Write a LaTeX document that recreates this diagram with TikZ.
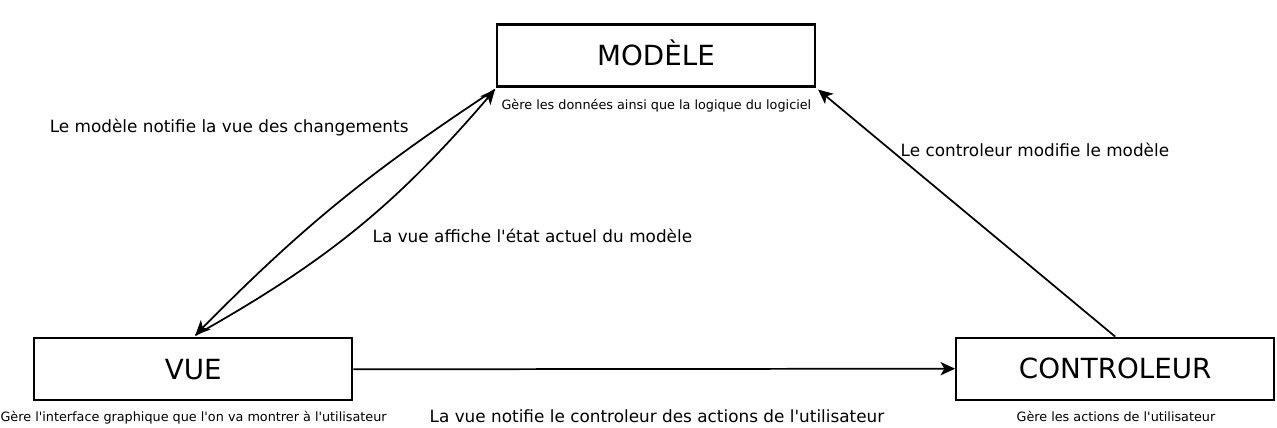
\documentclass[tikz,border=0pt]{standalone}
\usepackage{fontspec}
\newfontfamily\dv{DejaVu Sans}
\usetikzlibrary{arrows.meta}
\begin{document}
\begin{tikzpicture}[x=0.75pt,y=0.75pt,
  box/.style={draw, line width=1.6pt, minimum width=238.5pt, minimum height=46.5pt,
    inner sep=0pt, font=\dv\fontsize{20.8pt}{24pt}\selectfont, text height=15.2pt, text depth=0pt},
  lab/.style={inner sep=0pt, anchor=base west, font=\dv\fontsize{12.65pt}{15pt}\selectfont},
  small/.style={inner sep=0pt, anchor=base west, font=\dv\fontsize{9.6pt}{11pt}\selectfont},
  arr/.style={line width=1.3pt, -{Stealth[length=11pt,width=10pt,inset=3pt]}}]
\useasboundingbox (0,0) rectangle (1277,428);
\node[box] (mod) at (656,372.5) {MODÈLE};
\node[box] (vue) at (193.3,58.7) {VUE};
\node[box] (ctrl) at (1115.2,59.3) {CONTROLEUR};

\node[small] (dmod) at (501.3,318.7) {Gère les données ainsi que la logique du logiciel};
\node[small] (dvue) at (0.3,6.3) {Gère l'interface graphique que l'on va montrer à l'utilisateur};
\node[small] (dctrl) at (1016.3,7) {Gère les actions de l'utilisateur};

\coordinate (mc) at ([shift={(-1,-2)}]mod.south west);
\coordinate (vc) at ([shift={(2,2)}]vue.north);
\coordinate (me) at ([shift={(2,-2)}]mod.south east);

\draw[arr] (ctrl.north) -- (me);
\draw[arr] (vue.east) -- (ctrl.west);
\draw[arr] (mc) to[bend right=6] (vc);
\draw[arr] (vc) to[bend right=10] (mc);

\node[lab] (l1) at (49.5,295.3) {Le modèle notifie la vue des changements};
\node[lab] (l2) at (372.4,185.3) {La vue affiche l'état actuel du modèle};
\node[lab] (l3) at (900.4,271.3) {Le controleur modifie le modèle};
\node[lab] (l4) at (429.4,5.7) {La vue notifie le controleur des actions de l'utilisateur};
\end{tikzpicture}
\end{document}
